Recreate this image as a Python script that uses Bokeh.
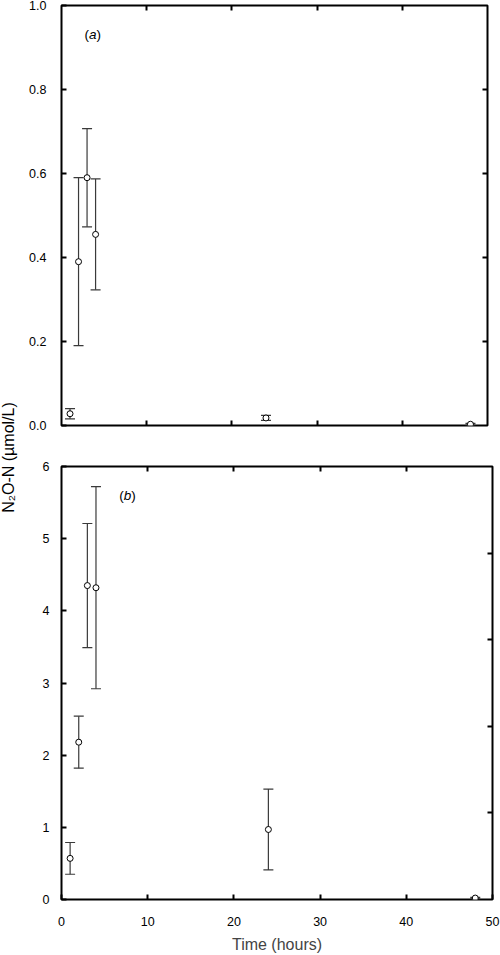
import math
from bokeh.plotting import figure
from bokeh.layouts import row, column
from bokeh.models import (Range1d, LinearAxis, FixedTicker, PrintfTickFormatter,
                          CustomJSTickFormatter, Whisker, TeeHead, ColumnDataSource, Label)
from bokeh.embed import file_html
from bokeh.resources import INLINE

# ---------------- data ----------------
time_a = [1, 2, 3, 4, 24, 48]
n2o_a = [0.028, 0.39, 0.59, 0.455, 0.018, 0.003]
err_a = [0.012, 0.20, 0.117, 0.132, 0.006, 0.002]

time_b = [1, 2, 3, 4, 24, 48]
n2o_b = [0.57, 2.18, 4.35, 4.32, 0.97, 0.02]
err_b = [0.22, 0.36, 0.86, 1.40, 0.56, 0.01]

x_ticks_inner = [10, 20, 30, 40]
x_ticks_b = [0, 10, 20, 30, 40, 50]
y_ticks_a = [0.0, 0.2, 0.4, 0.6, 0.8, 1.0]
y_ticks_b = [0, 1, 2, 3, 4, 5, 6]
right_ticks_b = [1, 2, 3, 4]

FONT = "Liberation Sans"
ERR_COLOR = "#3a3a3a"


def blank_formatter():
    return CustomJSTickFormatter(code="return ''")


def style_axis(ax, labels=True):
    ax.axis_line_color = None
    ax.major_tick_in = 5
    ax.major_tick_out = 0
    ax.major_tick_line_width = 2
    ax.major_tick_line_color = "black"
    ax.minor_tick_line_color = None
    ax.major_label_text_font = FONT
    ax.major_label_text_font_size = "12.5px"
    ax.major_label_text_color = "black"
    if not labels:
        ax.formatter = blank_formatter()


def make_panel(xs, ys, errs, yr, frame_w, frame_h, mb_left, mb_right, mb_top, mb_bottom):
    p = figure(frame_width=frame_w, frame_height=frame_h,
               x_range=Range1d(0, 50), y_range=Range1d(*yr),
               toolbar_location=None, output_backend="svg",
               x_axis_location=None, y_axis_location=None,
               min_border_left=mb_left, min_border_right=mb_right,
               min_border_top=mb_top, min_border_bottom=mb_bottom)
    p.outline_line_color = "black"
    p.outline_line_width = 2
    p.xgrid.visible = False
    p.ygrid.visible = False
    p.background_fill_color = "white"
    p.border_fill_color = "white"

    lower = [y - e for y, e in zip(ys, errs)]
    upper = [y + e for y, e in zip(ys, errs)]
    src = ColumnDataSource(dict(x=xs, y=ys, lower=lower, upper=upper))
    w = Whisker(source=src, base="x", lower="lower", upper="upper", dimension="height",
                line_color=ERR_COLOR, line_width=1.2, level="underlay",
                upper_head=TeeHead(size=10, line_color=ERR_COLOR, line_width=1.2),
                lower_head=TeeHead(size=10, line_color=ERR_COLOR, line_width=1.2))
    p.add_layout(w)
    p.scatter("x", "y", source=src, marker="circle", size=6,
              fill_color="white", line_color="black", line_width=1)
    return p


def panel_tag(p, x, y, letter):
    kw = dict(x=x, y=y, text_font=FONT, text_font_size="13.5px",
              text_baseline="middle", text_align="left", text_color="black")
    p.add_layout(Label(text="(", x_offset=0, **kw))
    p.add_layout(Label(text=letter, x_offset=4.5, text_font_style="italic", **kw))
    p.add_layout(Label(text=")", x_offset=12.0, **kw))


# ---------------- panel (a) ----------------
H1 = 460
pa = make_panel(time_a, n2o_a, err_a, (0, 1), 426, 420, 40, 14, 5, 35)

ax_l = LinearAxis(ticker=FixedTicker(ticks=y_ticks_a), formatter=PrintfTickFormatter(format="%.1f"))
style_axis(ax_l)
ax_l.major_label_standoff = 15
pa.add_layout(ax_l, "left")

ax_b = LinearAxis(ticker=FixedTicker(ticks=x_ticks_inner))
style_axis(ax_b, labels=False)
pa.add_layout(ax_b, "below")

ax_r = LinearAxis(ticker=FixedTicker(ticks=y_ticks_a[1:-1]))
style_axis(ax_r, labels=False)
pa.add_layout(ax_r, "right")

ax_t = LinearAxis(ticker=FixedTicker(ticks=x_ticks_inner))
style_axis(ax_t, labels=False)
pa.add_layout(ax_t, "above")

panel_tag(pa, 2.7, 0.93, "a")

# ---------------- panel (b) ----------------
H2 = 494
pb = make_panel(time_b, n2o_b, err_b, (0, 6), 431, 433, 41, 8, 6, 55)
pb.extra_y_ranges = {"r5": Range1d(0, 5)}

bx_l = LinearAxis(ticker=FixedTicker(ticks=y_ticks_b))
style_axis(bx_l)
bx_l.major_label_standoff = 12
pb.add_layout(bx_l, "left")

bx_b = LinearAxis(ticker=FixedTicker(ticks=x_ticks_b), axis_label="Time (hours)")
style_axis(bx_b)
bx_b.major_label_standoff = 17
bx_b.axis_label_standoff = 7
bx_b.axis_label_text_font = FONT
bx_b.axis_label_text_font_size = "16px"
bx_b.axis_label_text_font_style = "normal"
pb.add_layout(bx_b, "below")

bx_r = LinearAxis(y_range_name="r5", ticker=FixedTicker(ticks=right_ticks_b))
style_axis(bx_r, labels=False)
pb.add_layout(bx_r, "right")

bx_t = LinearAxis(ticker=FixedTicker(ticks=x_ticks_inner))
style_axis(bx_t, labels=False)
pb.add_layout(bx_t, "above")

panel_tag(pb, 6.7, 5.6, "b")

# ---------------- shared y label ----------------
ylab = figure(width=20, height=H1 + H2, x_range=Range1d(0, 1), y_range=Range1d(0, 1),
              toolbar_location=None, output_backend="svg", min_border=0,
              x_axis_location=None, y_axis_location=None)
ylab.outline_line_color = None
ylab.xgrid.visible = False
ylab.ygrid.visible = False
ylab.add_layout(Label(x=8, y=H1 + H2 - 457, x_units="screen", y_units="screen",
                      text="N\u2082O-N (\u00b5mol/L)", angle=math.pi / 2,
                      text_align="center", text_baseline="middle",
                      text_font=FONT, text_font_size="16px", text_color="black"))

layout = row(ylab, column(pa, pb))
open("out.html", "w").write(file_html(layout, INLINE))
